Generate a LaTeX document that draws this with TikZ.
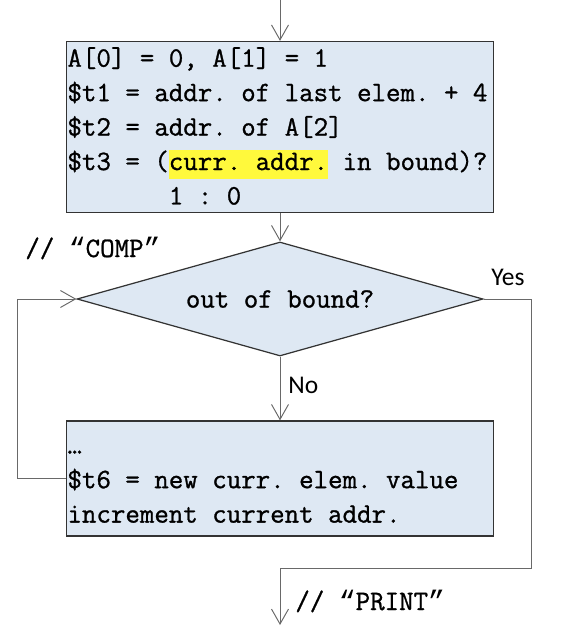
\documentclass[tikz,border=0pt]{standalone}
\usepackage{fontspec}
\setmonofont{Latin Modern Mono}[FakeBold=1]
\newfontfamily\labelfont{Carlito}
\newfontfamily\quotefont{Liberation Mono}
\usetikzlibrary{shapes.geometric,arrows.meta}
\definecolor{boxblue}{RGB}{222,232,243}
\definecolor{hiyellow}{RGB}{255,249,60}
\definecolor{linegray}{RGB}{105,105,105}
\newcommand{\hilite}[1]{{\setlength{\fboxsep}{0pt}\colorbox{hiyellow}{\rule[-0.31em]{0pt}{1.03em}#1}}}
\newcommand{\quoted}[1]{{\quotefont“}#1{\quotefont”}}
\newcommand{\fixspaces}{\spaceskip=0pt\xspaceskip=0pt\relax}
\frenchspacing
\begin{document}
\begin{tikzpicture}[
		codefont/.style = {font=\fontsize{16pt}{19.6pt}\selectfont\ttfamily},
		codebox/.style = {codefont, draw=black!80, line width=0.7pt, fill=boxblue, rectangle, align=left,
			text width=8.5cm, inner xsep=0.02cm, inner ysep=0pt},
		testbox/.style = {codefont, draw=black!80, line width=0.7pt, fill=boxblue, diamond, aspect=3.5,
			inner sep=0pt, minimum width=8.12cm, minimum height=2.28cm},
		flow/.style = {draw=linegray, line width=0.55pt, -{Straight Barb[length=0.3cm, width=0.34cm]}},
		yesno/.style = {font=\fontsize{14.5pt}{17pt}\selectfont\labelfont, inner sep=0pt, anchor=base west},
		comment/.style = {codefont, inner sep=0pt, anchor=base west}
	]
	\useasboundingbox (0,0) rectangle (11.44,-12.76);
	\coordinate (start) at (5.6,0);
	\node[codebox, minimum height=3.42cm] (init) at (5.6,-2.54) {\fixspaces A[0] = 0, A[1] = 1\\
		\$t1 = addr. of last elem. + 4\\
		\$t2 = addr. of A[2]\\
		\$t3 = (\hilite{curr. addr.} in bound)?\\
		\phantom{\$t3 = (}1 : 0};
	\node[testbox] (test) at (5.6,-5.98) {out of bound?};
	\node[codebox, minimum height=2.3cm] (body) at (5.6,-9.57) {\fixspaces\vphantom{[}…\\
		\$t6 = new curr. elem. value\\
		increment current addr.};
	\coordinate (turn) at (10.62,-11.36);
	\coordinate (finish) at (5.6,-12.5);
	\node[comment] (comp) at (0.5,-5.14) {// \quoted{COMP}};
	\node[comment] (print) at (5.9,-12.2) {// \quoted{PRINT}};
	\node[yesno] (yes) at (9.82,-5.7) {Yes};
	\node[yesno] (no) at (5.76,-7.86) {No};
	\draw[flow] (start) -- (init.north);
	\draw[flow] (init.south) -- (test.north);
	\draw[flow] (test.south) -- (body.north);
	\draw[flow] (body.west) -- ++(-0.96,0) |- (test.west);
	\draw[flow] (test.east) -| (turn) -| (finish);
\end{tikzpicture}
\end{document}
